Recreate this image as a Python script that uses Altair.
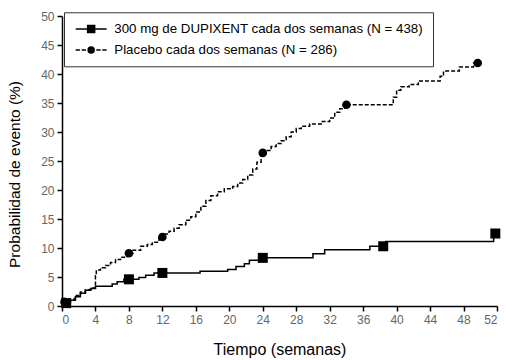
import altair as alt
import pandas as pd

# Kaplan-Meier style cumulative event probability (%), step change points
dup_weeks = [0, 0.5, 1.0, 1.6, 2.2, 2.8, 3.4, 4.0, 6.0, 6.6, 7.4, 9.2, 10.0, 11.0,
             16.5, 19.8, 20.8, 21.8, 22.4, 23.6, 30.0, 31.4, 36.8, 38.7, 51.6, 51.8]
dup_pct = [0, 0.5, 1.0, 1.6, 2.2, 2.7, 3.0, 3.4, 3.8, 4.2, 4.6, 4.9, 5.3, 5.7,
           6.0, 6.3, 6.8, 7.3, 7.9, 8.3, 9.0, 9.7, 10.3, 11.1, 12.5, 12.5]

pbo_weeks = [0, 0.3, 1.0, 1.6, 2.2, 2.8, 3.5, 4.0, 4.1, 4.6, 5.2, 5.8, 6.4, 7.0,
             7.8, 8.5, 9.4, 10.2, 10.8, 11.6, 12.2, 12.8, 13.4, 14.0, 14.8, 15.4,
             16.0, 16.6, 17.2, 17.8, 18.6, 19.4, 20.4, 21.0, 21.6, 22.2, 22.8, 23.3,
             23.8, 24.4, 25.0, 25.6, 26.2, 26.8, 27.4, 28.0, 28.6, 29.6, 31.0, 32.0,
             32.6, 33.2, 33.8, 39.6, 40.0, 40.5, 41.5, 42.6, 45.2, 45.6, 47.5, 49.2, 49.7]
pbo_pct = [0, 0.7, 1.2, 1.8, 2.4, 2.8, 3.1, 5.2, 6.2, 6.6, 7.0, 7.5, 8.0, 8.4,
           9.1, 9.6, 10.3, 10.6, 11.0, 11.9, 12.4, 12.9, 13.4, 14.0, 14.8, 15.4,
           16.2, 17.2, 18.2, 19.0, 19.7, 20.2, 20.6, 21.2, 21.8, 22.6, 23.6, 24.8,
           26.4, 26.8, 27.5, 28.0, 28.5, 29.2, 30.0, 30.6, 31.0, 31.4, 31.8, 32.4,
           33.4, 34.0, 34.7, 36.0, 37.2, 37.8, 38.2, 38.8, 39.6, 40.5, 41.2, 41.9, 41.9]

dup_mark_weeks = [0.5, 8, 12, 24, 38.4, 51.8]
dup_mark_pct = [0.5, 4.6, 5.7, 8.3, 10.3, 12.5]
pbo_mark_weeks = [0.3, 8, 12, 24, 34, 49.7]
pbo_mark_pct = [0.7, 9.1, 11.9, 26.4, 34.7, 41.9]

series = ["300 mg de DUPIXENT cada dos semanas (N = 438)",
          "Placebo cada dos semanas (N = 286)"]
x_ticks = list(range(0, 53, 4))
y_ticks = list(range(0, 51, 5))


def ring(cx, r):
    return (f"M{cx + r},0A{r},{r} 0 1,1 {cx - r},0"
            f"A{r},{r} 0 1,1 {cx + r},0Z")


def box(cx, h):
    return f"M{cx - h},{-h}H{cx + h}V{h}H{cx - h}Z"


# legend glyphs (stroked paths): solid line with square, dashed line with dot
legend_shapes = [
    "M-1,0H5.2" + box(2.1, 0.7) + box(2.1, 0.4) + box(2.1, 0.1),
    "M-1,0H-0.14M0.2,0H1.06M3.14,0H4M4.34,0H5.2"
    + ring(2.1, 0.6) + ring(2.1, 0.32) + ring(2.1, 0.08),
]

dup = pd.DataFrame({"w": dup_weeks, "p": dup_pct})
pbo = pd.DataFrame({"w": pbo_weeks, "p": pbo_pct})
dup_m = pd.DataFrame({"w": dup_mark_weeks, "p": dup_mark_pct})
pbo_m = pd.DataFrame({"w": pbo_mark_weeks, "p": pbo_mark_pct})
leg = pd.DataFrame({"w": [0, 0], "p": [0, 0], "s": series})

x_enc = alt.X("w:Q", scale=alt.Scale(domain=[0, 52], nice=False),
              axis=alt.Axis(values=x_ticks, title="Tiempo (semanas)",
                            titleFontSize=16, titleY=48, titleBaseline="alphabetic"))
y_enc = alt.Y("p:Q", scale=alt.Scale(domain=[0, 50], nice=False),
              axis=alt.Axis(values=y_ticks, title="Probabilidad de evento (%)",
                            titleFontSize=15.5, titleX=-43, titleY=158,
                            titleBaseline="alphabetic"))

line_dup = alt.Chart(dup).mark_line(interpolate="step-after", color="black",
                                    strokeWidth=1.5).encode(x=x_enc, y=y_enc)
line_pbo = alt.Chart(pbo).mark_line(interpolate="step-after", color="black",
                                    strokeWidth=1.5, strokeDash=[4, 2]).encode(x=x_enc, y=y_enc)
sq = alt.Chart(dup_m).mark_square(size=100, color="black", opacity=1).encode(x=x_enc, y=y_enc)
ci = alt.Chart(pbo_m).mark_circle(size=75, color="black", opacity=1).encode(x=x_enc, y=y_enc)

legend_layer = alt.Chart(leg).transform_filter("false").mark_point(
    filled=False, color="black", strokeWidth=1.5
).encode(
    x=x_enc, y=y_enc,
    shape=alt.Shape("s:N", scale=alt.Scale(domain=series, range=legend_shapes),
                    legend=alt.Legend(title=None, orient="none", legendX=2, legendY=-3.7,
                                      symbolSize=100, symbolStrokeWidth=1.5,
                                      symbolStrokeColor="black", symbolOpacity=1,
                                      labelFont="Liberation Sans", labelFontSize=13.3,
                                      labelColor="black", labelLimit=400,
                                      labelOffset=27, rowPadding=6, padding=10,
                                      strokeColor="#333", fillColor="white")),
)

chart = alt.layer(line_dup, line_pbo, sq, ci, legend_layer).properties(
    width=435, height=290,
    autosize=alt.AutoSizeParams(type="none"),
    padding={"left": 62, "top": 16, "right": 9, "bottom": 54},
).configure_view(stroke=None).configure_axis(
    grid=False, domainColor="black", domainWidth=1.5, tickColor="black",
    tickWidth=1.5, tickSize=5, labelFont="Liberation Sans", labelFontSize=12,
    labelColor="#666", labelPadding=3, titleFont="Liberation Sans",
    titleFontWeight="normal", titleColor="black",
)

chart.save("out.html", embed_options={"renderer": "svg", "actions": False})
